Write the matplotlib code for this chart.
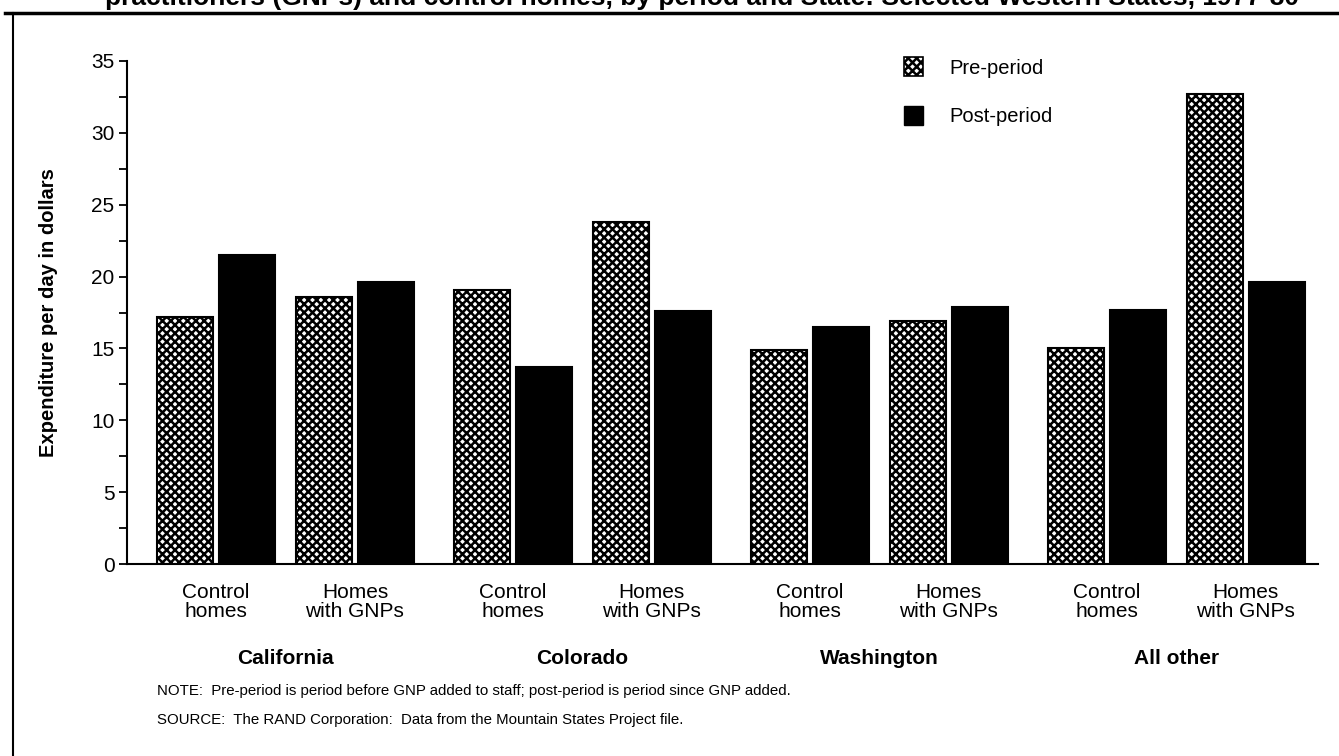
import numpy as np
import matplotlib
matplotlib.use('Agg')
import matplotlib.pyplot as plt
from matplotlib.patches import Patch
from matplotlib.lines import Line2D
import matplotlib.transforms as mtransforms

plt.rcParams['font.family'] = ['Liberation Sans', 'DejaVu Sans']
plt.rcParams['hatch.linewidth'] = 1.8

states = ['California', 'Colorado', 'Washington', 'All other']
home_types = ['Control\nhomes', 'Homes\nwith GNPs']
pre_period = [17.2, 18.6, 19.1, 23.8, 14.9, 16.9, 15.0, 32.7]
post_period = [21.5, 19.6, 13.7, 17.6, 16.5, 17.9, 17.7, 19.6]

title = ('practitioners (GNPs) and control homes, by period and State: '
         'Selected Western States, 1977-80')
note = 'NOTE:  Pre-period is period before GNP added to staff; post-period is period since GNP added.'
source = 'SOURCE:  The RAND Corporation:  Data from the Mountain States Project file.'

W, H = 1339, 756
fig = plt.figure(figsize=(W / 100, H / 100), dpi=100)
ax = fig.add_axes([127 / W, 1 - 564 / H, 1191 / W, 503 / H])

# pairs of bars, with a wider gap between states
group_pitch = 2.137
x = np.array([g * group_pitch + j for g in range(len(states)) for j in range(2)])
w = 0.403
ax.bar(x - 0.223, pre_period, w, color='white', edgecolor='black',
       hatch='xxxx', linewidth=1.5, label='Pre-period')
ax.bar(x + 0.223, post_period, w, color='black', edgecolor='black',
       linewidth=1.5, label='Post-period')

ax.set_xlim(-0.64, x[-1] + 0.52)
ax.set_ylim(0, 35)
ax.set_yticks(np.arange(0, 36, 5))
ax.set_yticks(np.arange(0, 35.1, 2.5), minor=True)
ax.tick_params(axis='y', which='both', direction='out', length=6, width=1.3,
               labelsize=15, pad=3)
ax.set_xticks(x)
ax.set_xticklabels([home_types[i % 2] for i in range(len(x))], fontsize=15,
                   linespacing=1.0)
ax.tick_params(axis='x', length=0, pad=14)
for s in ['top', 'right']:
    ax.spines[s].set_visible(False)
for s in ['left', 'bottom']:
    ax.spines[s].set_linewidth(1.5)

ax.set_ylabel('Expenditure per day in dollars', fontsize=14.5,
              fontweight='bold', labelpad=24)

trans = mtransforms.blended_transform_factory(ax.transData, fig.transFigure)
for i, st in enumerate(states):
    ax.text(x[2 * i] + 0.5, 1 - 658 / H, st, transform=trans, ha='center',
            va='center', fontsize=15, fontweight='bold')

handles = [Patch(facecolor='white', edgecolor='black', hatch='xxxx', linewidth=1.2),
           Patch(facecolor='black', edgecolor='black')]
fig.legend(handles, ['Pre-period', 'Post-period'], loc='upper left',
           bbox_to_anchor=(904 / W, 1 - 57 / H), frameon=False,
           fontsize=14.5, handlelength=0.95, handleheight=1.1,
           handletextpad=1.3, labelspacing=1.4, borderpad=0, borderaxespad=0)

fig.text(157 / W, 1 - 691 / H, note, fontsize=10.8, va='center')
fig.text(157 / W, 1 - 720 / H, source, fontsize=10.8, va='center')

# title is cut off at the top edge in the source, as are the frame lines
fig.text(0.524, 1 - 5 / H, title, fontsize=19, fontweight='bold',
         ha='center', va='baseline')
fig.add_artist(Line2D([5 / W, 1], [1 - 13 / H, 1 - 13 / H],
                      color='black', linewidth=2.5, transform=fig.transFigure))
fig.add_artist(Line2D([13 / W, 13 / W], [0, 1 - 13 / H],
                      color='black', linewidth=1.5, transform=fig.transFigure))

fig.savefig('out.png', dpi=100)
